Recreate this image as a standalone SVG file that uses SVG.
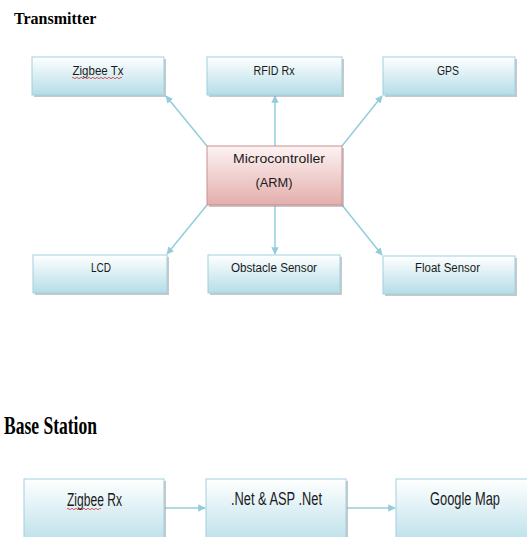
<svg xmlns="http://www.w3.org/2000/svg" width="527" height="537" viewBox="0 0 527 537">
<style>
  .box { fill: url(#blue); stroke: #9fd0de; stroke-width: 1; }
  .mc { fill: url(#red); stroke: #c98f8d; stroke-width: 1; }
  .sh { fill: #9a9a9a; opacity: 0.55; }
  .t { font-family: "Liberation Sans", Arial, sans-serif; font-size: 12px; fill: #1a1a1a; text-anchor: middle; }
  .tb { font-family: "Liberation Sans", Arial, sans-serif; font-size: 18px; fill: #1a1a1a; text-anchor: middle; }
  .h { font-family: "Liberation Serif", "Times New Roman", serif; font-weight: bold; fill: #000; }
  .c { stroke: #93cddd; stroke-width: 1.5; fill: none; marker-end: url(#ah); }
  .red { stroke: #d03030; stroke-width: 0.8; fill: none; }
</style>
<defs>
  <linearGradient id="blue" x1="0" y1="0" x2="0" y2="1">
    <stop offset="0" stop-color="#ffffff"/>
    <stop offset="1" stop-color="#b4dde8"/>
  </linearGradient>
  <linearGradient id="red" x1="0" y1="0" x2="0" y2="1">
    <stop offset="0" stop-color="#fdf3f3"/>
    <stop offset="1" stop-color="#e3aeac"/>
  </linearGradient>
  <marker id="ah" viewBox="0 0 10 10" refX="9" refY="5" markerWidth="5" markerHeight="5" orient="auto" markerUnits="strokeWidth">
    <path d="M0,0 L10,5 L0,10 z" fill="#93cddd"/>
  </marker>
</defs>

<text class="h" x="14" y="24" font-size="16">Transmitter</text>
<text class="h" x="4" y="434" font-size="25" textLength="93" lengthAdjust="spacingAndGlyphs">Base Station</text>

<g id="connectors">
  <line class="c" x1="207" y1="146" x2="166" y2="96"/>
  <line class="c" x1="275" y1="146" x2="275" y2="96"/>
  <line class="c" x1="342" y1="146" x2="382" y2="96"/>
  <line class="c" x1="207" y1="205" x2="167" y2="254"/>
  <line class="c" x1="275" y1="205" x2="275" y2="254"/>
  <line class="c" x1="342" y1="205" x2="382" y2="255"/>
  <line class="c" x1="165" y1="508" x2="205" y2="508"/>
  <line class="c" x1="347" y1="508" x2="395" y2="508"/>
</g>

<g id="zigbee-tx">
  <rect class="sh" x="34" y="59" width="132" height="38"/>
  <rect class="box" x="32" y="57" width="132" height="38"/>
  <text class="t" x="98" y="75" textLength="51" lengthAdjust="spacingAndGlyphs">Zigbee Tx</text>
  <path class="red" d="M72,78 q1,-1.5 2,0 t2,0 t2,0 t2,0 t2,0 t2,0 t2,0 t2,0 t2,0 t2,0 t2,0 t2,0 t2,0 t2,0 t2,0 t2,0 t2,0 t2,0 t2,0 t2,0 t2,0 t2,0 t2,0 t2,0 t2,0"/>
</g>
<g id="rfid-rx">
  <rect class="sh" x="209" y="59" width="135" height="38"/>
  <rect class="box" x="207" y="57" width="135" height="38"/>
  <text class="t" x="274" y="75" textLength="41" lengthAdjust="spacingAndGlyphs">RFID Rx</text>
</g>
<g id="gps">
  <rect class="sh" x="385" y="59" width="132" height="38"/>
  <rect class="box" x="383" y="57" width="132" height="38"/>
  <text class="t" x="448" y="75" textLength="22" lengthAdjust="spacingAndGlyphs">GPS</text>
</g>
<g id="microcontroller">
  <rect class="sh" x="209" y="148" width="135" height="59"/>
  <rect class="mc" x="207" y="146" width="135" height="59"/>
  <text class="t" x="279" y="163" textLength="92" lengthAdjust="spacingAndGlyphs">Microcontroller</text>
  <text class="t" x="274" y="187" textLength="37" lengthAdjust="spacingAndGlyphs">(ARM)</text>
</g>
<g id="lcd">
  <rect class="sh" x="35" y="257" width="134" height="38"/>
  <rect class="box" x="33" y="255" width="134" height="38"/>
  <text class="t" x="101" y="272" textLength="20" lengthAdjust="spacingAndGlyphs">LCD</text>
</g>
<g id="obstacle-sensor">
  <rect class="sh" x="210" y="257" width="132" height="38"/>
  <rect class="box" x="208" y="255" width="132" height="38"/>
  <text class="t" x="274" y="272" textLength="86" lengthAdjust="spacingAndGlyphs">Obstacle Sensor</text>
</g>
<g id="float-sensor">
  <rect class="sh" x="385" y="258" width="132" height="38"/>
  <rect class="box" x="383" y="256" width="132" height="38"/>
  <text class="t" x="447.5" y="272" textLength="65" lengthAdjust="spacingAndGlyphs">Float Sensor</text>
</g>

<g id="zigbee-rx">
  <rect class="sh" x="26" y="481" width="140" height="70"/>
  <rect class="box" x="24" y="479" width="140" height="70"/>
  <text class="tb" x="94.5" y="506" textLength="55" lengthAdjust="spacingAndGlyphs">Zigbee Rx</text>
  <path class="red" d="M67,509 q1,-1.5 2,0 t2,0 t2,0 t2,0 t2,0 t2,0 t2,0 t2,0 t2,0 t2,0 t2,0 t2,0 t2,0 t2,0 t2,0 t2,0 t2,0"/>
</g>
<g id="net-asp">
  <rect class="sh" x="208" y="481" width="140" height="70"/>
  <rect class="box" x="206" y="479" width="140" height="70"/>
  <text class="tb" x="276.5" y="505" textLength="91" lengthAdjust="spacingAndGlyphs">.Net &amp; ASP .Net</text>
</g>
<g id="google-map">
  <rect class="sh" x="398" y="481" width="140" height="70"/>
  <rect class="box" x="396" y="479" width="140" height="70"/>
  <text class="tb" x="465" y="505" textLength="70" lengthAdjust="spacingAndGlyphs">Google Map</text>
</g>
</svg>
